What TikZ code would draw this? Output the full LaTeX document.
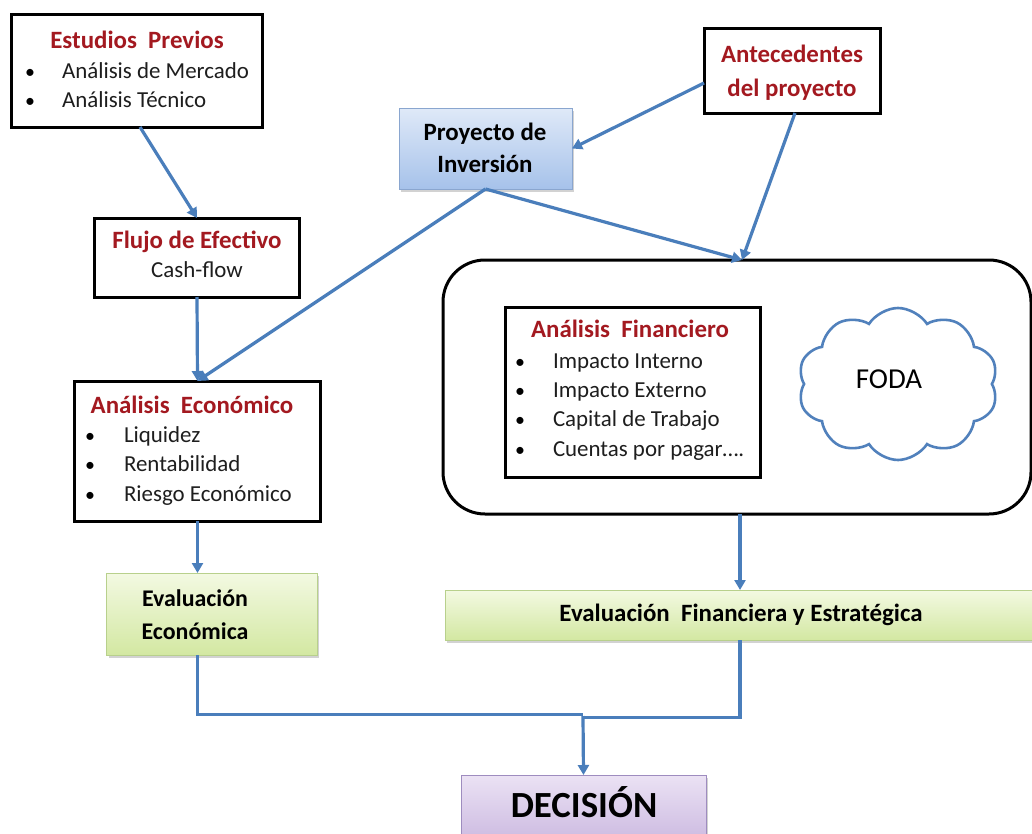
\documentclass[tikz,border=0pt]{standalone}
\usepackage{fontspec}
\setmainfont{Carlito}
\usetikzlibrary{arrows.meta,shapes.symbols,shadows,calc}

\definecolor{linkblue}{HTML}{4A7EBB}
\definecolor{titlered}{HTML}{A31920}
\definecolor{bodytext}{HTML}{1E1E1E}
\definecolor{bluetop}{HTML}{DFE9F8}
\definecolor{bluebot}{HTML}{A6C2EA}
\definecolor{blueedge}{HTML}{8AA6CF}
\definecolor{greentop}{HTML}{F3F9E2}
\definecolor{greenbot}{HTML}{D3E8A2}
\definecolor{greenedge}{HTML}{B8D08C}
\definecolor{violettop}{HTML}{EBE2F4}
\definecolor{violetbot}{HTML}{C6B2DD}
\definecolor{violetedge}{HTML}{9E8CBF}
\definecolor{cloudedge}{HTML}{5181BC}

\tikzset{
  every node/.style={inner sep=0pt, outer sep=0pt},
  frame/.style={draw=black, line width=3bp, fill=white},
  softshadow/.style={drop shadow={opacity=0.35, shadow xshift=2bp, shadow yshift=-3bp}},
  bluebox/.style={draw=blueedge, line width=1bp, top color=bluetop, bottom color=bluebot, softshadow},
  greenbox/.style={draw=greenedge, line width=1bp, top color=greentop, bottom color=greenbot, softshadow},
  violetbox/.style={draw=violetedge, line width=1bp, top color=violettop, bottom color=violetbot, softshadow},
  heading/.style={font=\fontsize{25}{30}\selectfont\bfseries, text=titlered, text height=17bp, text depth=5bp},
  darkhead/.style={font=\fontsize{25}{30}\selectfont\bfseries, text=black, text height=17bp, text depth=5bp},
  item/.style={font=\fontsize{23}{28}\selectfont, text=bodytext, text height=16bp, text depth=5bp, anchor=west},
  dot/.style={font=\fontsize{20}{24}\selectfont, text=black, text height=16bp, text depth=5bp},
  conn/.style={draw=linkblue, line width=3.2bp, -{Triangle[length=10bp,width=11bp]}},
  wire/.style={draw=linkblue, line width=3.2bp, line join=miter},
}

\begin{document}
\begin{tikzpicture}[x=1bp, y=-1bp]
\clip (0,0) rectangle (1032,834);
\fill[white] (0,0) rectangle (1032,834);

% ---------- boxes ----------
\node[frame, minimum width=250bp, minimum height=112bp] (est) at (137,71) {};
\node[heading] (estT) at (137,42) {Estudios\ \ Previos};
\node[dot] (estB1) at (30,73) {•};
\node[item] (estI1) at (62,73) {Análisis de Mercado};
\node[dot] (estB2) at (30,102) {•};
\node[item] (estI2) at (62,102) {Análisis Técnico};

\node[bluebox, minimum width=173bp, minimum height=81bp] (proy) at (485.5,148.5) {};
\node[darkhead] (proyT1) at (485,134) {Proyecto de};
\node[darkhead] (proyT2) at (485,166) {Inversión};

\node[frame, minimum width=176bp, minimum height=84bp] (ante) at (792,71) {};
\node[heading] (anteT1) at (792,56) {Antecedentes};
\node[heading] (anteT2) at (792,90) {del proyecto};

\node[frame, minimum width=204bp, minimum height=79bp] (flujo) at (197,257.5) {};
\node[heading] (flujoT) at (197,242) {Flujo de Efectivo};
\node[item, anchor=center] (flujoI) at (197,272) {Cash-flow};

\node[frame, minimum width=245bp, minimum height=140bp] (econ) at (197.5,451) {};
\node[heading] (econT) at (192,407) {Análisis\ \ Económico};
\node[dot] (econB1) at (90,437) {•};
\node[item] (econI1) at (124,437) {Liquidez};
\node[dot] (econB2) at (90,466) {•};
\node[item] (econI2) at (124,466) {Rentabilidad};
\node[dot] (econB3) at (90,496) {•};
\node[item] (econI3) at (124,496) {Riesgo Económico};

\node[frame, rounded corners=42bp, minimum width=588bp, minimum height=254bp] (cont) at (737,387) {};

\node[frame, minimum width=255bp, minimum height=170bp] (fin) at (632.5,392) {};
\node[heading] (finT) at (630,331) {Análisis\ \ Financiero};
\node[dot] (finB1) at (520,363) {•};
\node[item] (finI1) at (553,363) {Impacto Interno};
\node[dot] (finB2) at (520,392) {•};
\node[item] (finI2) at (553,392) {Impacto Externo};
\node[dot] (finB3) at (520,421) {•};
\node[item] (finI3) at (553,421) {Capital de Trabajo};
\node[dot] (finB4) at (520,451) {•};
\node[item] (finI4) at (553,451) {Cuentas por pagar….};

\node[cloud, draw=cloudedge, line width=2.6bp, fill=white, cloud puffs=10, cloud puff arc=115,
      aspect=1.3, minimum width=200bp, minimum height=152bp] (foda) at (898,384) {};
\node[font=\fontsize{29}{34}\selectfont, text=black, text height=19bp, text depth=1bp] (fodaT) at (889,379) {FODA};

\node[greenbox, minimum width=210bp, minimum height=82bp] (evecon) at (212,614) {};
\node[darkhead, font=\fontsize{24}{30}\selectfont\bfseries] (eveconT1) at (195,600) {Evaluación};
\node[darkhead, font=\fontsize{24}{30}\selectfont\bfseries] (eveconT2) at (195,633) {Económica};

\node[greenbox, minimum width=590bp, minimum height=50bp] (evfin) at (740,615) {};
\node[darkhead] (evfinT) at (741,615) {Evaluación\ \ Financiera y Estratégica};

\node[violetbox, minimum width=245bp, minimum height=80bp, anchor=north] (dec) at (583.5,775) {};
\node[font=\fontsize{37}{44}\selectfont\bfseries, text=black, text height=24bp, text depth=0bp] (decT) at (584,805) {DECISIÓN};

% ---------- connector anchor points ----------
\coordinate (contIn) at (742,260);
\coordinate (contOut) at (740,514);
\coordinate (merge) at (583,716);

% ---------- connectors ----------
\draw[conn] ($(est.south)+(3,0)$) -- (flujo.north);
\draw[conn] ($(ante.west)+(0,12)$) -- (proy.east);
\draw[conn] (proy.south) -- (econ.north);
\draw[conn] (proy.south) -- (contIn);
\draw[conn] ($(ante.south)+(3,0)$) -- (contIn);
\draw[conn] (flujo.south) -- (econ.north);
\draw[conn] (econ.south) -- (econ.south |- evecon.north);
\draw[conn] (contOut) -- (contOut |- evfin.north);

\draw[wire] (econ.south |- evecon.south) -- ($(econ.south |- merge)+(0,-1.5)$) -- ($(merge)+(0,-1.5)$);
\draw[wire] (contOut |- evfin.south) -- ($(contOut |- merge)+(0,1.5)$) -- ($(merge)+(0,1.5)$);
\draw[conn] (merge) -- (dec.north);
\end{tikzpicture}
\end{document}
